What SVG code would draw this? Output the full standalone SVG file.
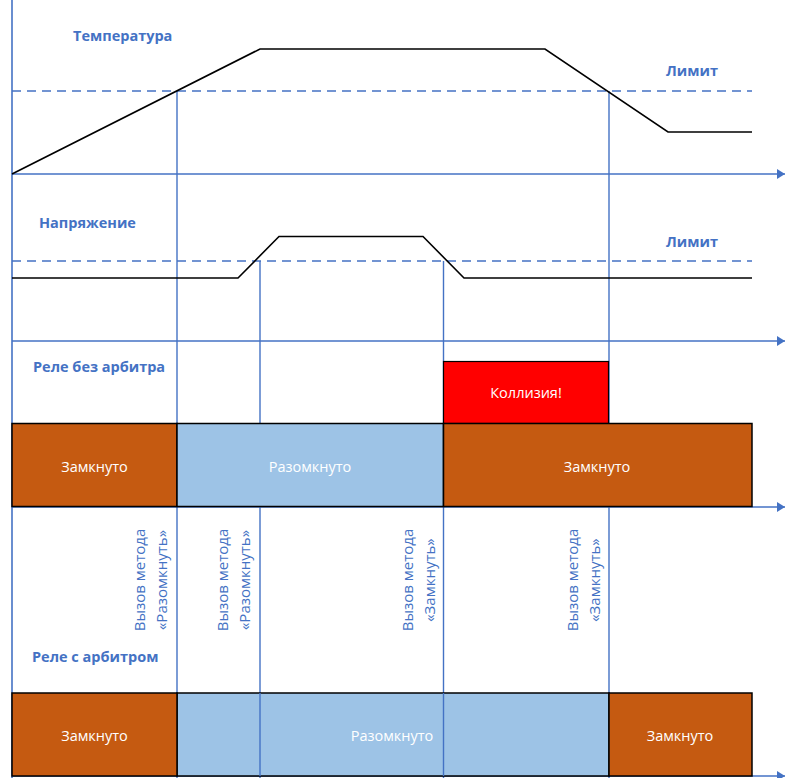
<svg xmlns="http://www.w3.org/2000/svg" width="785" height="778" viewBox="0 0 785 778">
<defs>
<style>
.ax{stroke:#4472C4;stroke-width:1.6;fill:none}
.vl{stroke:#4472C4;stroke-width:1.4;fill:none}
.dash{stroke:#4472C4;stroke-width:1.4;stroke-dasharray:9 6;fill:none}
.curve{stroke:#000;stroke-width:1.6;fill:none}
.lbl{font-family:"Open Sans","Liberation Sans",sans-serif;font-size:14.5px;font-weight:bold;fill:#4472C4}
.vt{font-family:"Open Sans","Liberation Sans",sans-serif;font-size:15px;fill:#4472C4}
.st{font-family:"Open Sans","Liberation Sans",sans-serif;font-size:14.5px;fill:#fff;text-anchor:middle;dominant-baseline:central}
.or{fill:#C55A11;stroke:#000;stroke-width:1.5}
.bl{fill:#9DC3E6;stroke:#000;stroke-width:1.5}
.rd{fill:#FF0000;stroke:#000;stroke-width:1.2}
</style>
<marker id="arr" markerWidth="8" markerHeight="10" refX="8" refY="5" orient="auto" markerUnits="userSpaceOnUse">
<path d="M0,0 L8,5 L0,10 z" fill="#4472C4"/>
</marker>
</defs>
<rect width="785" height="778" fill="#fff"/>

<g id="connectors">
<line class="ax" x1="12" y1="0" x2="12" y2="778"/>
<line class="ax" x1="12" y1="174" x2="785" y2="174" marker-end="url(#arr)"/>
<line class="ax" x1="12" y1="341" x2="785" y2="341" marker-end="url(#arr)"/>
<line class="ax" x1="12" y1="507" x2="785" y2="507" marker-end="url(#arr)"/>
<line class="ax" x1="12" y1="776" x2="785" y2="776" marker-end="url(#arr)"/>
<line class="dash" x1="12" y1="91" x2="752" y2="91"/>
<line class="dash" x1="12" y1="261" x2="752" y2="261"/>
<line class="vl" x1="177" y1="91" x2="177" y2="778"/>
<line class="vl" x1="260" y1="261" x2="260" y2="778"/>
<line class="vl" x1="443.5" y1="261" x2="443.5" y2="778"/>
<line class="vl" x1="609" y1="91" x2="609" y2="778"/>
</g>

<g id="temperature-curve">
<polyline class="curve" points="12,174 260,49 545,49 668,132 752,132"/>
</g>
<g id="voltage-curve">
<polyline class="curve" points="12,278 238,278 279,236.5 423,236.5 464,278 752,278"/>
</g>

<g id="label-temperature"><text class="lbl" x="73" y="41">Температура</text></g>
<g id="label-limit1"><text class="lbl" x="666" y="76">Лимит</text></g>
<g id="label-voltage"><text class="lbl" x="39" y="228">Напряжение</text></g>
<g id="label-limit2"><text class="lbl" x="666" y="247">Лимит</text></g>
<g id="label-relay1"><text class="lbl" x="33" y="372">Реле без арбитра</text></g>
<g id="label-relay2"><text class="lbl" x="32" y="662">Реле с арбитром</text></g>

<g id="collision">
<rect class="rd" x="443.5" y="361.5" width="165" height="62"/>
<text class="st" x="526" y="392">Коллизия!</text>
</g>

<g id="relay1-closed-a">
<rect class="or" x="12" y="423.5" width="165" height="83"/>
<text class="st" x="94.5" y="466">Замкнуто</text>
</g>
<g id="relay1-open">
<rect class="bl" x="177" y="423.5" width="266.5" height="83"/>
<text class="st" x="310" y="466">Разомкнуто</text>
</g>
<g id="relay1-closed-b">
<rect class="or" x="443.5" y="423.5" width="308.5" height="83"/>
<text class="st" x="597" y="466">Замкнуто</text>
</g>

<g id="relay2-open">
<rect class="bl" x="177" y="693" width="432" height="83"/>
<line class="vl" x1="260" y1="693" x2="260" y2="776"/>
<line class="vl" x1="443.5" y1="693" x2="443.5" y2="776"/>
<text class="st" x="392" y="735">Разомкнуто</text>
</g>
<g id="relay2-closed-a">
<rect class="or" x="12" y="693" width="165" height="83"/>
<text class="st" x="94.5" y="735">Замкнуто</text>
</g>
<g id="relay2-closed-b">
<rect class="or" x="609" y="693" width="143" height="83"/>
<text class="st" x="680" y="735">Замкнуто</text>
</g>

<g id="call-open-1">
<text class="vt" transform="translate(139,580) rotate(-90)" text-anchor="middle" dominant-baseline="central">Вызов метода</text>
<text class="vt" transform="translate(161,580) rotate(-90)" text-anchor="middle" dominant-baseline="central">«Разомкнуть»</text>
</g>
<g id="call-open-2">
<text class="vt" transform="translate(221.5,580) rotate(-90)" text-anchor="middle" dominant-baseline="central">Вызов метода</text>
<text class="vt" transform="translate(243.5,580) rotate(-90)" text-anchor="middle" dominant-baseline="central">«Разомкнуть»</text>
</g>
<g id="call-close-1">
<text class="vt" transform="translate(406.5,580) rotate(-90)" text-anchor="middle" dominant-baseline="central">Вызов метода</text>
<text class="vt" transform="translate(428.5,580) rotate(-90)" text-anchor="middle" dominant-baseline="central">«Замкнуть»</text>
</g>
<g id="call-close-2">
<text class="vt" transform="translate(571.5,580) rotate(-90)" text-anchor="middle" dominant-baseline="central">Вызов метода</text>
<text class="vt" transform="translate(593.5,580) rotate(-90)" text-anchor="middle" dominant-baseline="central">«Замкнуть»</text>
</g>
</svg>
